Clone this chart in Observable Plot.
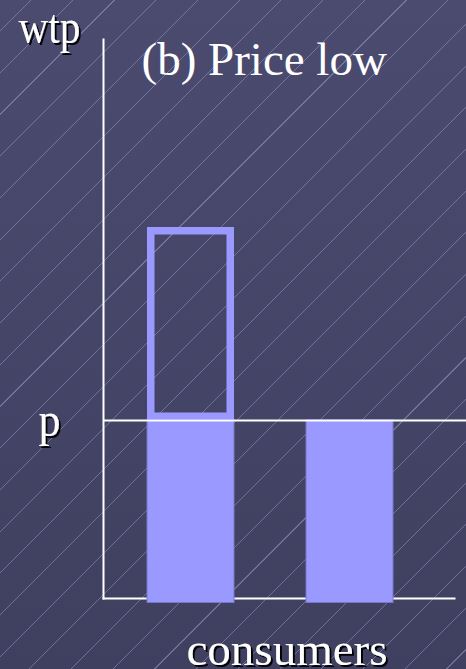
<!DOCTYPE html>
<html><head><meta charset="utf-8">
<script src="https://cdn.jsdelivr.net/npm/d3@7"></script>
<script src="https://cdn.jsdelivr.net/npm/@observablehq/plot@0.6"></script>
<style>
html,body{margin:0;padding:0;}
body{width:466px;height:669px;overflow:hidden;
background:
 repeating-linear-gradient(135deg, rgba(0,0,0,0) 0px, rgba(0,0,0,0) 21.6px, rgba(150,150,200,0.55) 21.6px, rgba(150,150,200,0.55) 22.4px, rgba(0,0,0,0) 22.4px, rgba(0,0,0,0) 29.49px),
 linear-gradient(180deg, #4b4b70, #3f3f5f);}
#chart svg{display:block;}
#chart svg text{font-family:"Times New Roman", Times, Tinos, "Liberation Serif", "DejaVu Serif", "Noto Serif", FreeSerif, Georgia, serif !important;}
</style>
</head>
<body>
<div id="chart"></div>
<script>
const consumers = ["1", "2"];
const wtp = [20.84, 10];
const price = 10;
const priceTicks = [price];
const priceTickLabels = ["p"];
const yLabel = ["wtp"];
const xLabel = ["consumers"];
const titleText = ["(b) Price low"];

const data = consumers.map((c, i) => ({consumer: c, wtp: wtp[i]}));
const serif = "Times New Roman";
const barColor = "#9999ff";

const chart = Plot.plot({
  width: 466, height: 669,
  marginTop: 39, marginBottom: 71, marginLeft: 103, marginRight: 12,
  style: {background: "transparent", color: "white", overflow: "visible"},
  x: {domain: consumers, paddingInner: 0.4514, paddingOuter: 0.326, align: 0.423, axis: null},
  y: {domain: [0, 31.4]},
  marks: [
    Plot.frame({anchor: "left", stroke: "white", strokeWidth: 2}),
    Plot.frame({anchor: "bottom", stroke: "white", strokeWidth: 2}),
    Plot.barY(data.filter(d => d.wtp > price), {x: "consumer", y1: price, y2: "wtp", fill: "none", stroke: barColor, strokeWidth: 7.5, inset: 3.75}),
    Plot.barY(data, {x: "consumer", y1: 0, y2: d => Math.min(d.wtp, price), fill: barColor, stroke: "#7878c8", strokeWidth: 1, insetBottom: -4.5}),
    Plot.ruleY([price], {stroke: "white", strokeWidth: 2, insetRight: -12}),
    Plot.axisY({ticks: priceTicks, tickFormat: (d, i) => priceTickLabels[i], tickSize: 0, tickPadding: 43, fontSize: 48, fontFamily: serif, fill: "white", color: "white", label: null}),
    Plot.text(yLabel, {text: d => d, frameAnchor: "top-left", textAnchor: "start", lineAnchor: "bottom", dx: -85, dy: 3, fill: "white", fontSize: 48, fontFamily: serif}),
    Plot.text(titleText, {text: d => d, frameAnchor: "top-left", textAnchor: "start", lineAnchor: "bottom", dx: 38, dy: 35, fill: "white", fontSize: 47, fontFamily: serif}),
    Plot.text(xLabel, {text: d => d, frameAnchor: "bottom", textAnchor: "middle", lineAnchor: "bottom", dx: 8, dy: 66, fill: "white", fontSize: 47, fontFamily: serif})
  ]
});
document.getElementById("chart").appendChild(chart);

// drop shadow filter for the axis texts
const svgns = "http://www.w3.org/2000/svg";
const defs = document.createElementNS(svgns, "defs");
defs.innerHTML = '<filter id="tshadow" x="-30%" y="-30%" width="160%" height="160%"><feDropShadow dx="2" dy="2" stdDeviation="0.5" flood-color="#000" flood-opacity="0.95"/></filter>';
chart.insertBefore(defs, chart.firstChild);

chart.querySelectorAll("text").forEach(t => {
  const s = t.textContent;
  if (s === yLabel[0]) { t.setAttribute("textLength", 62); t.setAttribute("lengthAdjust", "spacingAndGlyphs"); t.setAttribute("filter", "url(#tshadow)"); }
  if (s === priceTickLabels[0]) { t.setAttribute("textLength", 22); t.setAttribute("lengthAdjust", "spacingAndGlyphs"); t.setAttribute("filter", "url(#tshadow)"); }
  if (s === xLabel[0]) { t.setAttribute("filter", "url(#tshadow)"); }
});
</script>
</body></html>
